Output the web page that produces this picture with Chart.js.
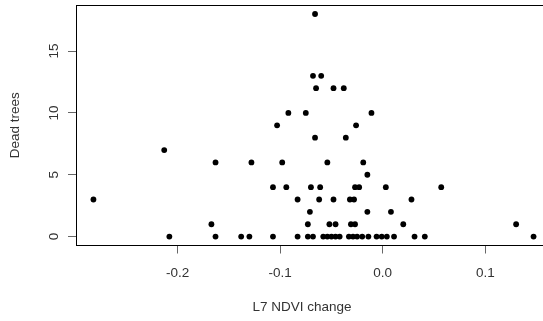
<!DOCTYPE html>
<html>
<head>
<meta charset="utf-8">
<script src="https://cdn.jsdelivr.net/npm/chart.js@4/dist/chart.umd.min.js"></script>
<style>
html,body{margin:0;padding:0;background:#fff;overflow:hidden;width:543px;height:321px;}
#wrap{position:relative;width:560px;height:321px;overflow:hidden;}
#c{position:absolute;left:0;top:0;}
</style>
</head>
<body>
<div id="wrap"><canvas id="c" width="560" height="334"></canvas></div>
<script>
// NDVI change (x) and dead tree counts (y)
const ndviChange = [
  -0.066,
  -0.068, -0.060,
  -0.065, -0.048, -0.038,
  -0.092, -0.075, -0.011,
  -0.103, -0.026,
  -0.066, -0.036,
  -0.213,
  -0.163, -0.128, -0.098, -0.054, -0.019,
  -0.015,
  -0.107, -0.094, -0.070, -0.061, -0.027, -0.023, 0.003, 0.057,
  -0.282, -0.083, -0.062, -0.048, -0.032, -0.028, 0.028,
  -0.071, -0.015, 0.008,
  -0.167, -0.073, -0.052, -0.046, -0.031, -0.027, 0.020, 0.130,
  -0.208, -0.163, -0.138, -0.130, -0.107, -0.083, -0.073, -0.068, -0.058, -0.054,
  -0.050, -0.046, -0.042, -0.033, -0.029, -0.025, -0.020, -0.014, -0.006, -0.001,
  0.004, 0.011, 0.031, 0.041, 0.147
];
const deadTrees = [
  18,
  13, 13,
  12, 12, 12,
  10, 10, 10,
  9, 9,
  8, 8,
  7,
  6, 6, 6, 6, 6,
  5,
  4, 4, 4, 4, 4, 4, 4, 4,
  3, 3, 3, 3, 3, 3, 3,
  2, 2, 2,
  1, 1, 1, 1, 1, 1, 1, 1,
  0, 0, 0, 0, 0, 0, 0, 0, 0, 0,
  0, 0, 0, 0, 0, 0, 0, 0, 0, 0,
  0, 0, 0, 0, 0
];
const xTicks = [-0.2, -0.1, 0.0, 0.1];
const yTicks = [0, 5, 10, 15];
const xLabel = "L7 NDVI change";
const yLabel = "Dead trees";

const FONT = "'Liberation Sans', Arial, sans-serif";
const points = ndviChange.map((x, i) => ({x: x, y: deadTrees[i]}));

const CANVAS_W = 560;
const TARGET_TOP = 5.5;      // page y of plot top
const TARGET_BOTTOM = 245.5; // page y of plot bottom
const X_AXIS_H = 321 - TARGET_BOTTOM;
let offset = 0;

const boxPlugin = {
  id: 'box',
  afterDraw(chart) {
    const {ctx, chartArea: a} = chart;
    ctx.save();
    ctx.strokeStyle = '#000';
    ctx.lineWidth = 1;
    ctx.strokeRect(Math.round(a.left) + 0.5, Math.round(a.top) + 0.5,
                   Math.round(a.right - a.left), Math.round(a.bottom - a.top));
    ctx.fillStyle = '#333';
    ctx.font = '13.5px ' + FONT;
    ctx.textAlign = 'center';
    ctx.textBaseline = 'middle';
    ctx.fillText(xLabel, 302, 308 + offset);
    ctx.translate(15, (a.top + a.bottom) / 2);
    ctx.rotate(-Math.PI / 2);
    ctx.fillText(yLabel, 0, 0);
    ctx.restore();
  }
};

function makeConfig() {
  return {
    type: 'scatter',
    data: {
      datasets: [{
        data: points,
        backgroundColor: '#000',
        borderColor: '#000',
        pointRadius: 2.9,
        pointHoverRadius: 2.9,
        borderWidth: 0
      }]
    },
    options: {
      responsive: false,
      maintainAspectRatio: false,
      animation: false,
      events: [],
      layout: {padding: {left: 0, right: CANVAS_W - 551, top: 0, bottom: 0}},
      plugins: {legend: {display: false}, tooltip: {enabled: false}},
      scales: {
        x: {
          type: 'linear',
          min: -0.299, max: 0.164,
          afterBuildTicks: s => { s.ticks = xTicks.map(v => ({value: v})); },
          afterFit: s => { s.height = X_AXIS_H; },
          grid: {drawOnChartArea: false, drawTicks: true, tickLength: 8, color: '#666'},
          border: {display: true, color: '#000'},
          ticks: {
            font: {family: FONT, size: 13.5},
            color: '#333',
            padding: 12,
            maxRotation: 0,
            callback: v => v.toFixed(1)
          }
        },
        y: {
          type: 'linear',
          min: -0.72, max: 18.72,
          afterBuildTicks: s => { s.ticks = yTicks.map(v => ({value: v})); },
          afterFit: s => { s.width = 76; },
          grid: {drawOnChartArea: false, drawTicks: true, tickLength: 8, color: '#666'},
          border: {display: true, color: '#000'},
          ticks: {
            font: {family: FONT, size: 13.5},
            color: '#333',
            padding: 6,
            minRotation: 90,
            maxRotation: 90,
            crossAlign: 'center',
            callback: v => String(v)
          }
        }
      }
    },
    plugins: [boxPlugin]
  };
}

const canvas = document.getElementById('c');
// first pass: measure how far the plot top sits from the canvas top
let chart = new Chart(canvas, makeConfig());
const top0 = chart.chartArea.top;
chart.destroy();
offset = top0 - TARGET_TOP;
const newH = Math.round(top0 + (TARGET_BOTTOM - TARGET_TOP) + X_AXIS_H);
canvas.width = CANVAS_W;
canvas.height = newH;
canvas.style.width = CANVAS_W + 'px';
canvas.style.height = newH + 'px';
canvas.style.top = (-offset) + 'px';
chart = new Chart(canvas, makeConfig());
</script>
</body>
</html>
